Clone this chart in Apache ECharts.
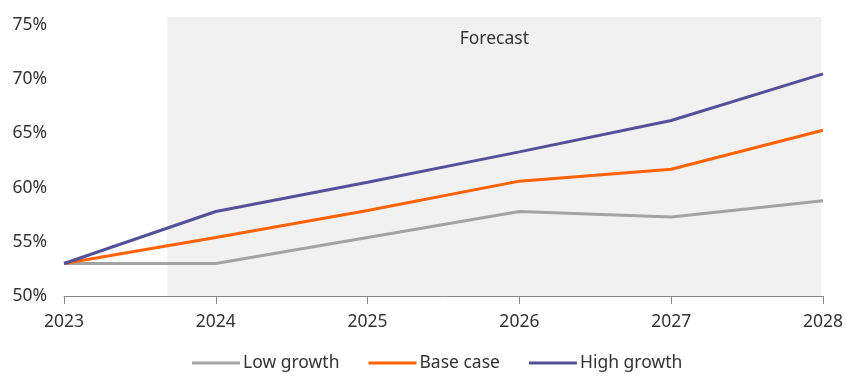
<!DOCTYPE html>
<html><head><meta charset="utf-8">
<script src="https://cdn.jsdelivr.net/npm/echarts@6/dist/echarts.min.js"></script>
<style>html,body{margin:0;padding:0;background:#fff}#c{width:846px;height:379px}</style>
</head><body><div id="c"></div>
<script>
var years = [2023, 2024, 2025, 2026, 2027, 2028];
var lowGrowth = [53.0, 53.0, 55.4, 57.8, 57.3, 58.8];
var baseCase = [53.0, 55.4, 57.9, 60.6, 61.7, 65.3];
var highGrowth = [53.0, 57.8, 60.5, 63.3, 66.2, 70.5];
var forecastStart = 2023.68, forecastEnd = 2027.99;
var yMin = 50, yMax = 75.75, yStep = 5;

function pairs(v){ return years.map(function(y,i){ return [y, v[i]]; }); }
var font = 'Noto Sans';
var fs = 17.5;
var chart = echarts.init(document.getElementById('c'));
chart.setOption({
  animation: false,
  textStyle: {fontFamily: font},
  grid: {left: 64, right: 22, top: 17, bottom: 83, containLabel: false},
  legend: {
    bottom: 2, left: 187, itemWidth: 48, itemHeight: 3, itemGap: 29,
    icon: 'rect',
    textStyle: {fontFamily: font, fontSize: fs, color: '#333', padding: [0,0,0,-2]},
    data: ['Low growth', 'Base case', 'High growth']
  },
  xAxis: {
    type: 'value', min: 2023, max: 2028, interval: 1,
    axisLine: {show: true, lineStyle: {color: '#888', width: 1}},
    axisTick: {show: true, length: 8, lineStyle: {color: '#888'}},
    splitLine: {show: false},
    axisLabel: {fontFamily: font, fontSize: fs, color: '#333', margin: 17, formatter: function(v){return String(v);}}
  },
  yAxis: {
    type: 'value', min: yMin, max: yMax, interval: yStep,
    axisLine: {show: false}, axisTick: {show: false}, splitLine: {show: false},
    axisLabel: {fontFamily: font, fontSize: fs, color: '#333', margin: 17, showMaxLabel: false,
      formatter: function(v){ return (v % yStep === 0) ? v + '%' : ''; }}
  },
  series: [
    {name: 'Low growth', type: 'line', data: pairs(lowGrowth), symbol: 'none',
     lineStyle: {color: '#a3a3a3', width: 3}, itemStyle: {color: '#a3a3a3'}, z: 3,
     markArea: {silent: true, itemStyle: {color: '#f1f1f1'},
       label: {show: true, position: 'insideTop', distance: 13, formatter: 'Forecast', fontFamily: font, fontSize: fs, color: '#333'},
       data: [[{xAxis: forecastStart, yAxis: yMin}, {xAxis: forecastEnd, yAxis: yMax}]]}},
    {name: 'Base case', type: 'line', data: pairs(baseCase), symbol: 'none',
     lineStyle: {color: '#ff6200', width: 3}, itemStyle: {color: '#ff6200'}, z: 4},
    {name: 'High growth', type: 'line', data: pairs(highGrowth), symbol: 'none',
     lineStyle: {color: '#525199', width: 3}, itemStyle: {color: '#525199'}, z: 5}
  ]
});
</script></body></html>
